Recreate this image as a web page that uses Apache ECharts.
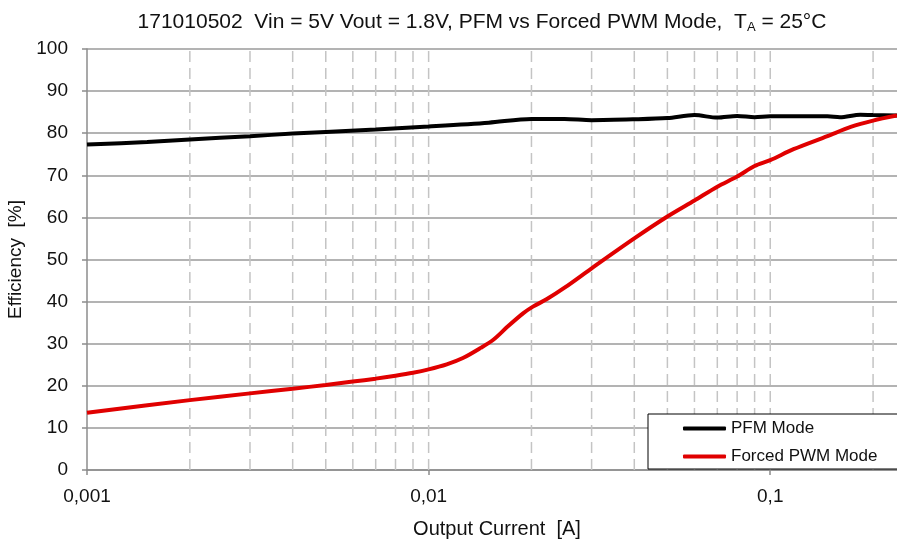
<!DOCTYPE html>
<html>
<head>
<meta charset="utf-8">
<script src="https://cdn.jsdelivr.net/npm/echarts@6/dist/echarts.min.js"></script>
<style>
  html, body { margin: 0; padding: 0; background: #fff; }
  #chart { width: 897px; height: 542px; }
</style>
</head>
<body>
<div id="chart"></div>
<script>
// output current [A] and efficiency [%]
const pfmCurrent = [0.001, 0.0015, 0.002, 0.003, 0.004, 0.005, 0.007, 0.01, 0.015, 0.02, 0.025, 0.03, 0.04, 0.05, 0.06, 0.07, 0.08, 0.09, 0.1, 0.12, 0.147, 0.16, 0.1835, 0.2, 0.235];
const pfmEff = [77.3, 77.9, 78.5, 79.3, 79.9, 80.3, 80.9, 81.6, 82.5, 83.4, 83.4, 83.1, 83.3, 83.6, 84.3, 83.7, 84.1, 83.8, 84.0, 84.0, 84.0, 83.8, 84.4, 84.3, 84.2];

const pwmCurrent = [0.001, 0.002, 0.003, 0.004, 0.005, 0.006, 0.007, 0.008, 0.009, 0.01, 0.0113, 0.0126, 0.0142, 0.0155, 0.017, 0.0189, 0.0202, 0.0222, 0.025, 0.03, 0.04, 0.05, 0.06, 0.07, 0.08, 0.09, 0.1, 0.117, 0.147, 0.172, 0.2, 0.235];
const pwmEff = [13.6, 16.6, 18.2, 19.3, 20.2, 21.0, 21.7, 22.4, 23.1, 23.9, 25.1, 26.6, 29.0, 31.0, 34.0, 37.2, 38.8, 40.6, 43.3, 47.9, 55.0, 60.2, 64.0, 67.3, 69.7, 72.2, 73.6, 76.2, 79.3, 81.5, 83.0, 84.2];

// dashed vertical grid lines (log minor + decades)
const xGridLines = [0.002, 0.003, 0.004, 0.005, 0.006, 0.007, 0.008, 0.009, 0.01,
  0.02, 0.03, 0.04, 0.05, 0.06, 0.07, 0.08, 0.09, 0.1, 0.2];
const yMin = 0;
const yMax = 100;

const seriesNames = ['PFM Mode', 'Forced PWM Mode'];

const font = 'Liberation Sans, Arial, sans-serif';

const chart = echarts.init(document.getElementById('chart'));

function xLabel(v) {
  const lg = Math.log10(v);
  const e = Math.round(lg);
  if (Math.abs(lg - e) > 1e-6) return '';
  return Math.pow(10, e).toFixed(-e).replace('.', ',');
}

// each grid line is its own segment, broken by an empty point
const gridData = [];
xGridLines.forEach(v => {
  gridData.push([v, yMin], [v, yMax], [v, '-']);
});

chart.setOption({
  animation: false,
  backgroundColor: '#fff',
  title: {
    text: '171010502  Vin = 5V Vout = 1.8V, PFM vs Forced PWM Mode,  T{sub|A} = 25°C',
    left: 477,
    textAlign: 'center',
    top: 5,
    textStyle: {
      fontFamily: font,
      fontSize: 21,
      fontWeight: 'normal',
      color: '#111',
      rich: {
        sub: { fontFamily: font, fontSize: 13, color: '#111', padding: [11, 0, 0, 0] }
      }
    }
  },
  legend: {
    data: seriesNames,
    orient: 'vertical',
    left: 648,
    top: 414,
    padding: [6, 40, 4, 35],
    itemGap: 11,
    itemWidth: 43,
    itemHeight: 4,
    icon: 'roundRect',
    backgroundColor: '#fff',
    borderColor: '#000',
    borderWidth: 1,
    borderRadius: 0,
    textStyle: { fontFamily: font, fontSize: 17, color: '#111' }
  },
  grid: { left: 87, right: 0, top: 49, bottom: 72, containLabel: false, outerBoundsMode: 'none' },
  xAxis: {
    type: 'log',
    logBase: 10,
    min: 0.001,
    max: 0.235,
    name: 'Output Current  [A]',
    nameLocation: 'middle',
    nameGap: 49,
    nameTextStyle: { fontFamily: font, fontSize: 20, color: '#111', padding: [0, 0, 0, 10] },
    axisLine: { lineStyle: { color: '#8c8c8c', width: 1.5 } },
    axisTick: { show: true, length: 5, lineStyle: { color: '#8c8c8c', width: 1.5 } },
    axisLabel: {
      fontFamily: font, fontSize: 19, color: '#111', margin: 17,
      showMaxLabel: false, formatter: xLabel
    },
    splitLine: { show: false },
    minorTick: { show: false },
    minorSplitLine: { show: false }
  },
  yAxis: {
    type: 'value',
    min: yMin,
    max: yMax,
    interval: 10,
    name: 'Efficiency  [%]',
    nameLocation: 'middle',
    nameGap: 56,
    nameTextStyle: { fontFamily: font, fontSize: 19, color: '#111' },
    axisLine: { show: true, lineStyle: { color: '#8c8c8c', width: 1.5 } },
    axisTick: { show: true, length: 5, lineStyle: { color: '#8c8c8c', width: 1.5 } },
    axisLabel: { fontFamily: font, fontSize: 19, color: '#111', margin: 19 },
    splitLine: { lineStyle: { color: '#9a9a9a', width: 1.5 } }
  },
  series: [
    {
      name: 'grid',
      type: 'line',
      z: 1,
      silent: true,
      showSymbol: false,
      connectNulls: false,
      data: gridData,
      lineStyle: { color: '#c4c4c4', type: [11, 6], width: 1.5 }
    },
    {
      name: seriesNames[0],
      type: 'line',
      z: 3,
      showSymbol: false,
      smooth: 0.3,
      data: pfmCurrent.map((c, i) => [c, pfmEff[i]]),
      lineStyle: { color: '#000', width: 4 },
      itemStyle: { color: '#000' }
    },
    {
      name: seriesNames[1],
      type: 'line',
      z: 3,
      showSymbol: false,
      smooth: 0.3,
      data: pwmCurrent.map((c, i) => [c, pwmEff[i]]),
      lineStyle: { color: '#e00000', width: 4 },
      itemStyle: { color: '#e00000' }
    }
  ]
});
</script>
</body>
</html>
